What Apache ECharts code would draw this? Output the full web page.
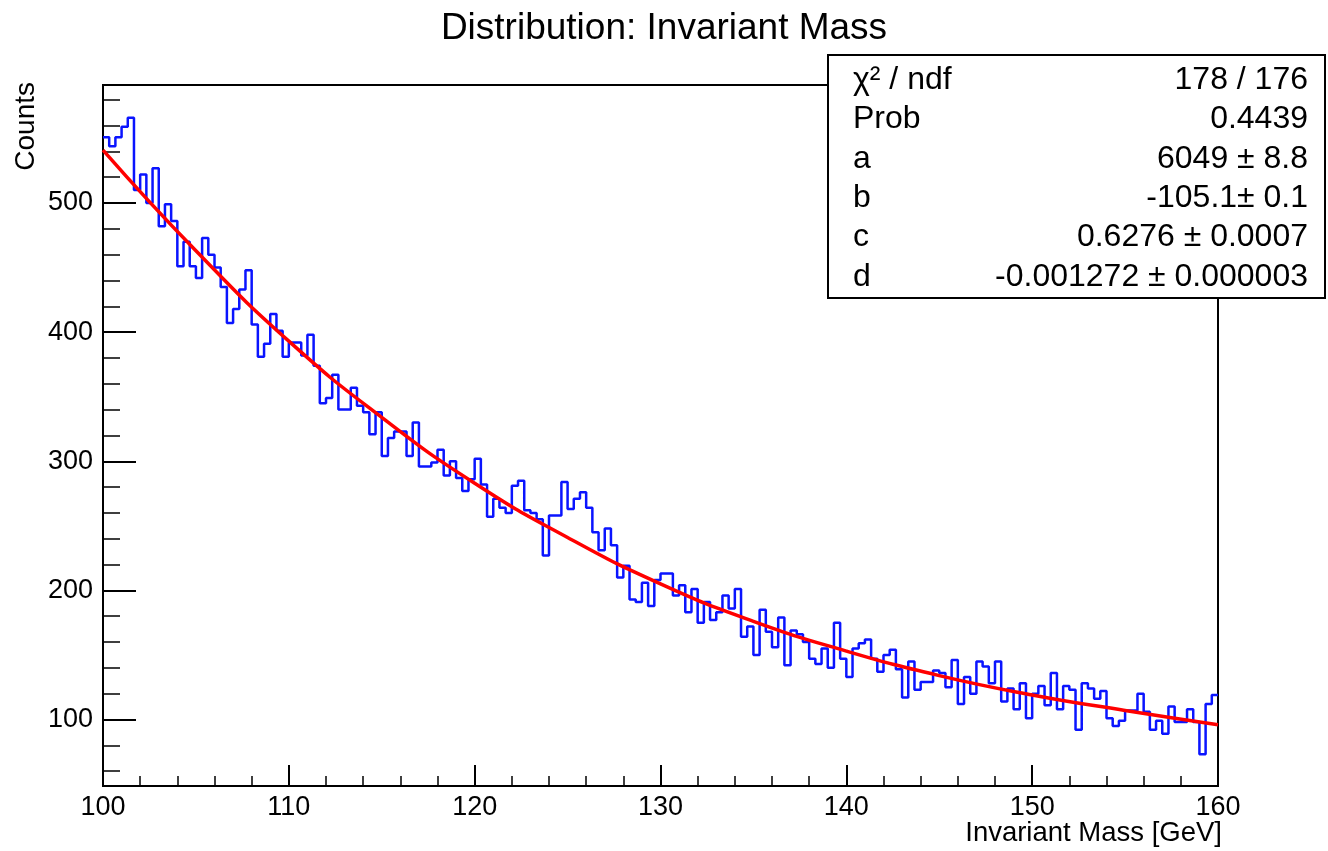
<!DOCTYPE html>
<html>
<head>
<meta charset="utf-8">
<title>Distribution: Invariant Mass</title>
<script src="https://cdn.jsdelivr.net/npm/echarts@6/dist/echarts.min.js"></script>
<style>
  html, body { margin: 0; padding: 0; background: #fff; }
  #chart { width: 1328px; height: 851px; }
</style>
</head>
<body>
<div id="chart"></div>
<script>
// histogram binning: 180 bins of 1/3 GeV
var xMin = 100;
var xMax = 160;
var binWidth = 1 / 3;

var counts = [
  551, 544, 551, 559, 566, 510, 522, 500, 527, 482,
  499, 486, 451, 470, 451, 442, 473, 460, 450, 435,
  407, 418, 433, 448, 406, 381, 391, 414, 401, 381,
  392, 392, 382, 398, 374, 345, 349, 367, 340, 340,
  357, 343, 338, 321, 338, 304, 318, 323, 323, 304,
  330, 296, 296, 299, 309, 289, 300, 287, 277, 286,
  302, 282, 257, 271, 264, 260, 281, 285, 262, 260,
  255, 227, 258, 258, 284, 263, 271, 276, 264, 245,
  231, 248, 235, 210, 219, 193, 191, 206, 188, 208,
  213, 213, 196, 204, 183, 201, 175, 191, 177, 183,
  196, 186, 201, 164, 172, 150, 185, 168, 156, 179,
  142, 169, 166, 160, 147, 143, 155, 140, 175, 147,
  133, 155, 159, 162, 147, 137, 150, 154, 139, 117,
  145, 123, 129, 129, 138, 136, 125, 146, 112, 133,
  120, 145, 141, 128, 145, 114, 124, 108, 128, 101,
  120, 126, 111, 136, 108, 126, 123, 92, 128, 124,
  116, 122, 101, 95, 99, 107, 107, 120, 106, 92,
  99, 89, 110, 98, 98, 108, 98, 73, 112, 119
];

// fit curve
var fitMass = [100, 105, 110, 115, 120, 125, 130, 135, 140, 145, 150, 155, 160];
var fitCounts = [541, 463, 393, 334, 283, 241, 205, 176, 153, 134, 119, 107, 96];

var yMin = 48.5;
var yMax = 591.4;

var statNames = ["\u03c7\u00b2 / ndf", "Prob", "a", "b", "c", "d"];
var statValues = ["178 / 176", "0.4439", "6049 \u00b1 8.8", "-105.1\u00b1 0.1", "0.6276 \u00b1 0.0007", "-0.001272 \u00b1 0.000003"];

var font = '"Liberation Sans", Arial, Helvetica, sans-serif';

var histData = counts.map(function (c, i) {
  return [xMin + i * binWidth, c];
});
histData.push([xMax, counts[counts.length - 1]]);

var fitData = fitMass.map(function (m, i) {
  return [m, fitCounts[i]];
});

var statGraphics = [{
  type: "rect",
  z: 100,
  shape: { x: 828, y: 55, width: 497, height: 243 },
  style: { fill: "#fff", stroke: "#000", lineWidth: 2 }
}];
statNames.forEach(function (name, i) {
  var rowY = 80 + i * 39.4;
  statGraphics.push({
    type: "text", z: 101, x: 853, y: rowY,
    style: { text: name, fill: "#000", fontSize: 32, fontFamily: font, align: "left", verticalAlign: "middle" }
  });
  statGraphics.push({
    type: "text", z: 101, x: 1308, y: rowY,
    style: { text: statValues[i], fill: "#000", fontSize: 32, fontFamily: font, align: "right", verticalAlign: "middle" }
  });
});

var chart = echarts.init(document.getElementById("chart"));
chart.setOption({
  animation: false,
  backgroundColor: "#fff",
  grid: {
    left: 103,
    right: 110,
    top: 85,
    bottom: 65,
    show: true,
    borderColor: "#000",
    borderWidth: 2
  },
  xAxis: {
    type: "value",
    min: xMin,
    max: xMax,
    interval: 10,
    axisLine: { show: true, onZero: false, lineStyle: { color: "#000", width: 2 } },
    axisTick: { inside: true, length: 21, lineStyle: { color: "#000", width: 2 } },
    minorTick: { show: true, splitNumber: 5, length: 10, lineStyle: { color: "#000", width: 1.5 } },
    axisLabel: { margin: 8, color: "#000", fontSize: 27, fontFamily: font },
    splitLine: { show: false },
    minorSplitLine: { show: false }
  },
  yAxis: [{
    type: "value",
    min: yMin,
    max: yMax,
    splitNumber: 5,
    axisLine: { show: true, onZero: false, lineStyle: { color: "#000", width: 2 } },
    axisTick: { inside: true, length: 33, lineStyle: { color: "#000", width: 2 } },
    axisLabel: { margin: 10, color: "#000", fontSize: 27, fontFamily: font, showMinLabel: false, showMaxLabel: false },
    splitLine: { show: false }
  }, {
    // minor ticks every 20 counts
    type: "value",
    position: "left",
    min: yMin,
    max: yMax,
    splitNumber: 27,
    axisLine: { show: false },
    axisTick: { inside: true, length: 17, lineStyle: { color: "#000", width: 1.5 } },
    axisLabel: { show: false },
    splitLine: { show: false }
  }],
  series: [{
    name: "histogram",
    type: "line",
    step: "end",
    data: histData,
    symbol: "none",
    lineStyle: { color: "#0a14ff", width: 2.5 },
    z: 3
  }, {
    name: "fit",
    type: "line",
    smooth: true,
    data: fitData,
    symbol: "none",
    lineStyle: { color: "#ff0000", width: 3.5 },
    z: 4
  }],
  graphic: [{
    type: "text", z: 100, x: 664, y: 29,
    style: { text: "Distribution: Invariant Mass", fill: "#000", fontSize: 37, fontFamily: font, align: "center", verticalAlign: "middle" }
  }, {
    type: "text", z: 100, x: 26, y: 82, rotation: Math.PI / 2,
    style: { text: "Counts", fill: "#000", fontSize: 28, fontFamily: font, align: "right", verticalAlign: "middle" }
  }, {
    type: "text", z: 100, x: 1222, y: 833,
    style: { text: "Invariant Mass [GeV]", fill: "#000", fontSize: 27.5, fontFamily: font, align: "right", verticalAlign: "middle" }
  }].concat(statGraphics)
});
</script>
</body>
</html>
